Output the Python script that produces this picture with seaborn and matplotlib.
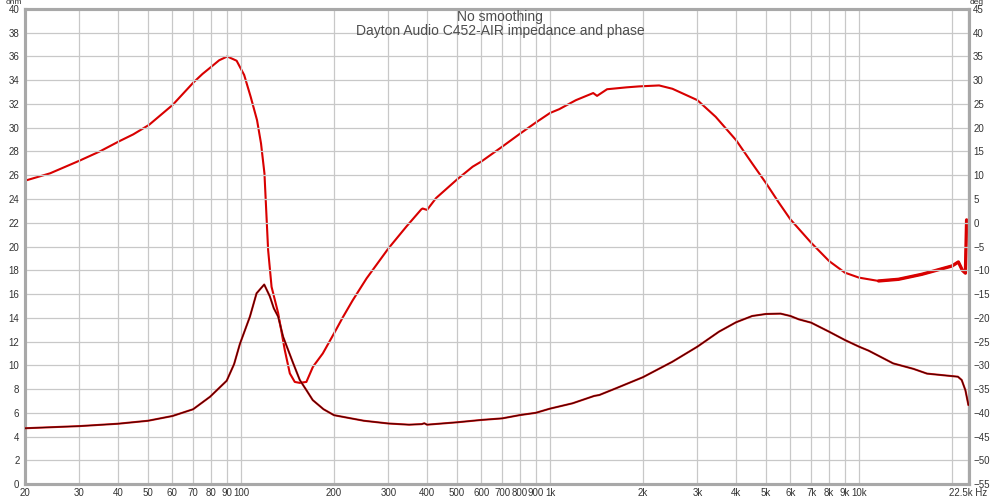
import numpy as np
import pandas as pd
import matplotlib
matplotlib.use("Agg")
import matplotlib.pyplot as plt
import seaborn as sns

# impedance (ohm)
imp_freq = [20, 30, 40, 50, 60, 70, 79.4, 89.9, 95, 99.2, 106.9, 112.3, 118.9, 124, 127.7,
            131.9, 136.9, 147.4, 155, 162.9, 170.7, 185, 200, 225, 250, 300, 350, 385,
            392, 400, 500, 600, 700, 800, 900, 1000, 1183, 1390, 1445, 1634, 2000,
            2490, 3000, 3523, 4000, 4512, 5000, 5572, 6000, 6384, 7000, 8000, 9000,
            10000, 10750, 12900, 15000, 16600, 20900, 21500, 22100, 22600]
imp_ohm = [4.7, 4.88, 5.08, 5.33, 5.73, 6.3, 7.35, 8.7, 10.1, 11.8, 14.1, 16.06, 16.8, 15.8,
           14.8, 14.1, 12.4, 10.2, 8.76, 7.9, 7.07, 6.3, 5.8, 5.55, 5.33, 5.1, 5.0,
           5.05, 5.12, 5.0, 5.2, 5.4, 5.53, 5.81, 6.0, 6.35, 6.8, 7.42, 7.5, 8.06,
           9.0, 10.3, 11.57, 12.83, 13.62, 14.15, 14.32, 14.35, 14.15, 13.87, 13.59,
           12.83, 12.13, 11.57, 11.23, 10.16, 9.7, 9.3, 9.04, 8.76, 7.9, 6.65]

# phase (deg)
ph_freq = [20, 24.1, 30.1, 34.9, 40.2, 44.8, 50.4, 60.1, 70.1, 75, 80.4, 85, 90.3,
           96.8, 102.4, 107.5, 112.7, 116.1, 119.1, 122.4, 125.6, 131.9, 138.6,
           143.9, 149.3, 154.9, 162.8, 171, 184, 200, 214, 230, 255, 300, 343, 383,
           387, 400, 428, 500, 562, 600, 700, 800, 900, 1000, 1071, 1213, 1380, 1420,
           1530, 1770, 1942, 2255, 2490, 3000, 3437, 4000, 4510, 5000, 5508, 6000,
           7000, 8000, 9000, 10000, 11570, 13420, 15970, 20000, 20970, 21600, 22100,
           22300]
ph_deg = [8.85, 10.4, 13.1, 15.0, 17.1, 18.6, 20.6, 24.8, 29.5, 31.3, 32.9, 34.2, 35.0,
          34.1, 31.1, 26.5, 21.6, 16.7, 10.4, -5.7, -13.5, -19.0, -26.8, -31.7,
          -33.5, -33.7, -33.5, -30.3, -27.5, -23.3, -19.8, -16.3, -11.7, -5.4, -0.8,
          2.8, 3.0, 2.7, 5.2, 9.1, 11.8, 12.9, 16.0, 18.75, 21.1, 23.1, 23.9, 25.8,
          27.3, 26.7, 28.1, 28.5, 28.7, 28.9, 28.2, 25.8, 22.3, 17.4, 12.5, 8.35, 4.2,
          0.7, -4.2, -8.05, -10.5, -11.55, -12.25, -11.9, -10.85, -9.1, -8.25, -10.0,
          -10.6, 0.6]

x_ticks = [20, 30, 40, 50, 60, 70, 80, 90, 100, 200, 300, 400, 500, 600, 700, 800,
           900, 1000, 2000, 3000, 4000, 5000, 6000, 7000, 8000, 9000, 10000, 20000, 22500]
x_labels = ["20", "30", "40", "50", "60", "70", "80", "90", "100", "200", "300", "400",
            "500", "600", "700", "800", "900", "1k", "2k", "3k", "4k", "5k", "6k", "7k",
            "8k", "9k", "10k", "", "22.5k Hz"]

imp = pd.DataFrame({"freq": imp_freq, "ohm": imp_ohm})
ph = pd.DataFrame({"freq": ph_freq, "deg": ph_deg})

sns.set_style("white")
plt.rcParams["font.family"] = ["Liberation Sans", "DejaVu Sans"]

fig = plt.figure(figsize=(10, 4.97), dpi=100)
ax = fig.add_axes([0.025, 0.026, 0.944, 0.956])
ax2 = ax.twinx()

grid_c = "#c8c8c8"
txt_c = "#333333"

ax.set_xscale("log")
ax.set_xlim(20, 22700)
ax.set_ylim(0, 40)
ax2.set_ylim(-55, 45)

ax.set_xticks(x_ticks)
ax.set_xticklabels(x_labels)
ax.xaxis.set_minor_locator(matplotlib.ticker.NullLocator())
ax.set_yticks(np.arange(0, 41, 2))
ax2.set_yticks(np.arange(-55, 46, 5))
ax.grid(True, color=grid_c, lw=0.9)

# phase curve (right axis), a bit thicker where it gets noisy at the top end
sns.lineplot(data=ph, x="freq", y="deg", ax=ax2, color="#d80000", lw=1.5, sort=False)
sns.lineplot(data=ph[ph["freq"] > 11000], x="freq", y="deg", ax=ax2, color="#d80000",
             lw=2.4, sort=False)
# impedance curve: red halo with dark core
sns.lineplot(data=imp, x="freq", y="ohm", ax=ax, color="#d81010", lw=1.5, sort=False, zorder=3)
sns.lineplot(data=imp, x="freq", y="ohm", ax=ax, color="#4a0000", lw=0.8, sort=False, zorder=4)
ax.set_zorder(ax2.get_zorder() + 1)
ax.patch.set_visible(False)

for a in (ax, ax2):
    a.set_xlabel("")
    a.set_ylabel("")
    for s in a.spines.values():
        s.set_color("#a8a8a8")
        s.set_linewidth(2.2)
    a.tick_params(length=0, labelsize=7, colors=txt_c)
ax.tick_params(axis="y", pad=4)
ax.tick_params(axis="x", pad=3)
ax2.tick_params(axis="y", pad=3)

fig.text(0.006, 1 - 6.5 / 497, "ohm", fontsize=6, color=txt_c, va="bottom", ha="left")
fig.text(0.970, 1 - 6.5 / 497, "deg", fontsize=6, color=txt_c, va="bottom", ha="left")

fig.text(0.5, 0.966, "No smoothing", fontsize=10, color="#4d4d4d", ha="center", va="center")
fig.text(0.5, 0.938, "Dayton Audio C452-AIR impedance and phase", fontsize=10,
         color="#4d4d4d", ha="center", va="center")

fig.savefig("out.png", dpi=100)
